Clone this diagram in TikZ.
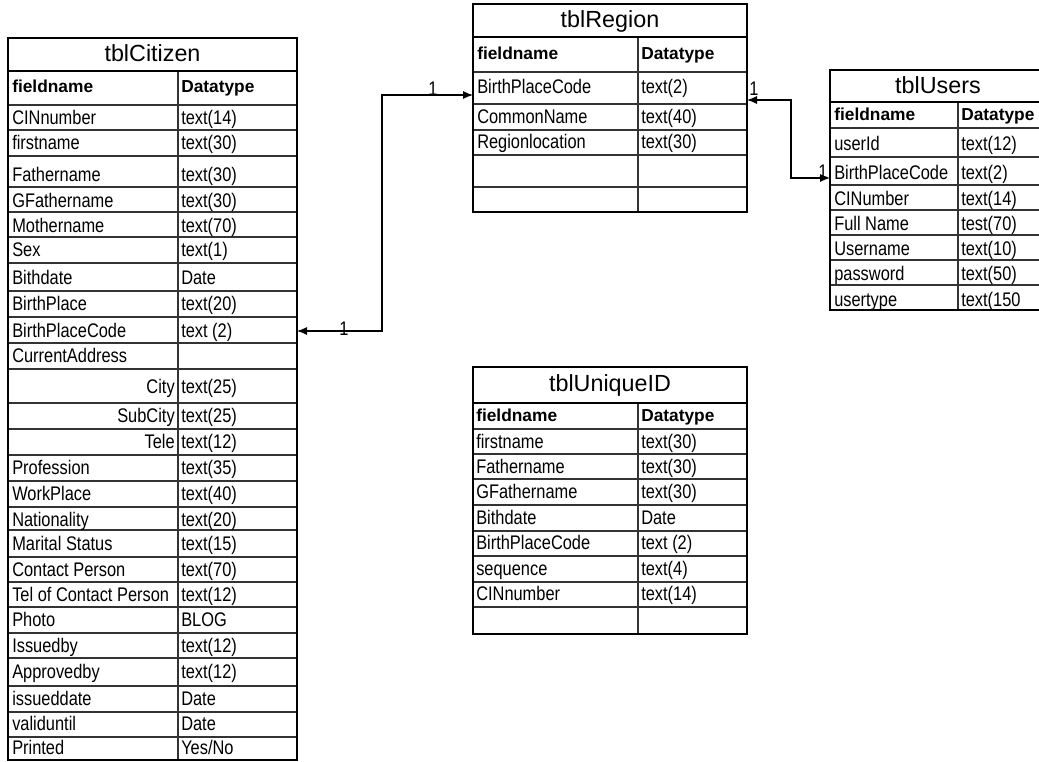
\documentclass[tikz,border=0pt]{standalone}
\usepackage{fontspec}
\usepackage{graphicx}
\setmainfont{Liberation Sans}
\usetikzlibrary{arrows.meta}
\newcommand\vstr[1]{\scalebox{1}[1.2]{#1}}
\tikzset{
  outer/.style={line width=2pt, draw=black},
  inner/.style={line width=1.1pt, draw=black!80},
  ttl/.style={font=\fontsize{17.5}{20}\selectfont, inner sep=0pt, text height=12.5pt, text depth=3.5pt},
  hdr/.style={font=\bfseries\fontsize{13}{15}\selectfont, anchor=west, inner sep=0pt, text height=9.5pt, text depth=2.5pt},
  fld/.style={font=\fontsize{12.3}{14}\selectfont, anchor=west, inner sep=0pt, text height=11pt, text depth=2pt},
  rfld/.style={fld, anchor=east},
  rel/.style={line width=0.8pt, draw=black, {Latex[length=7.5pt,width=6pt]}-{Latex[length=7.5pt,width=6pt]}},
  card/.style={font=\fontsize{12.3}{14}\selectfont, inner sep=0pt, text height=11pt, text depth=2pt},
}
\begin{document}
\begin{tikzpicture}[x=0.75pt,y=-0.75pt]
\useasboundingbox (0,0) rectangle (1039,761);
\clip (0,0) rectangle (1039,761);

% ---------------- tblCitizen ----------------
\foreach \y in {105,130,156,187,212,237,263,291,317,343,369,403,429,455,481,507,530,557,582,607,633,658,686,712,737}
  \draw[inner] (8,\y) -- (297,\y);
\draw[inner] (178,71) -- (178,760);
\draw[outer] (8,71) -- (297,71);
\draw[outer] (8,38) rectangle (297,760);
\node[ttl] (cit-title) at (152.5,55) {tblCitizen};
\node[hdr] (cit-h1) at (12,88) {fieldname};
\node[hdr] (cit-h2) at (181,88) {Datatype};
\foreach \i/\y/\f/\t in {1/118/CINnumber/text(14), 2/143/firstname/text(30), 3/175/Fathername/text(30),
  4/201/GFathername/text(30), 5/226/Mothername/text(70), 6/250/Sex/text(1), 7/278/Bithdate/Date,
  8/304/BirthPlace/text(20), 9/331/BirthPlaceCode/text (2), 14/468/Profession/text(35),
  15/494/WorkPlace/text(40), 16/520/Nationality/text(20), 17/544/Marital Status/text(15),
  18/570/Contact Person/text(70), 19/595/Tel of Contact Person/text(12), 20/620/Photo/BLOG,
  21/646/Issuedby/text(12), 22/672/Approvedby/text(12), 23/699/issueddate/Date, 24/724/validuntil/Date} {
  \node[fld] (cit-f\i) at (12,\y) {\vstr{\f}};
  \node[fld] (cit-t\i) at (181,\y) {\vstr{\t}};
}
\node[fld] (cit-f10) at (12,356) {\vstr{CurrentAddress}};
\foreach \i/\y/\f/\t in {11/387/City/text(25), 12/416/SubCity/text(25), 13/442/Tele/text(12)} {
  \node[rfld] (cit-f\i) at (175,\y) {\vstr{\f}};
  \node[fld] (cit-t\i) at (181,\y) {\vstr{\t}};
}
\node[fld] (cit-f25) at (12,748) {\vstr{Printed}};
\node[fld] (cit-t25) at (181,748) {\vstr{Yes/No}};

% ---------------- tblRegion ----------------
\foreach \y in {72,104,130,155,187}
  \draw[inner] (473,\y) -- (747,\y);
\draw[inner] (638,37) -- (638,212);
\draw[outer] (473,37) -- (747,37);
\draw[outer] (473,4) rectangle (747,212);
\node[ttl] (reg-title) at (610,21) {tblRegion};
\node[hdr] (reg-h1) at (477,55) {fieldname};
\node[hdr] (reg-h2) at (641,55) {Datatype};
\foreach \i/\y/\f/\t in {1/87/BirthPlaceCode/text(2), 2/117/CommonName/text(40), 3/142/Regionlocation/text(30)} {
  \node[fld] (reg-f\i) at (477,\y) {\vstr{\f}};
  \node[fld] (reg-t\i) at (641,\y) {\vstr{\t}};
}

% ---------------- tblUsers ----------------
\foreach \y in {128,157,185,210,235,260,285}
  \draw[inner] (830,\y) -- (1046,\y);
\draw[inner] (958,102) -- (958,310);
\draw[outer] (830,102) -- (1046,102);
\draw[outer] (830,70) rectangle (1046,310);
\node[ttl] (usr-title) at (938,87) {tblUsers};
\node[hdr] (usr-h1) at (834,116) {fieldname};
\node[hdr] (usr-h2) at (961,116) {Datatype};
\foreach \i/\y/\f/\t in {1/144/userId/text(12), 2/173/BirthPlaceCode/text(2), 3/199/CINumber/text(14),
  4/224/Full Name/test(70), 5/249/Username/text(10), 6/274/password/text(50), 7/300/usertype/text(150} {
  \node[fld] (usr-f\i) at (834,\y) {\vstr{\f}};
  \node[fld] (usr-t\i) at (961,\y) {\vstr{\t}};
}

% ---------------- tblUniqueID ----------------
\foreach \y in {429,454,479,505,531,556,582,607}
  \draw[inner] (473,\y) -- (747,\y);
\draw[inner] (638,403) -- (638,634);
\draw[outer] (473,403) -- (747,403);
\draw[outer] (473,367) rectangle (747,634);
\node[ttl] (uid-title) at (610,385) {tblUniqueID};
\node[hdr] (uid-h1) at (476,417) {fieldname};
\node[hdr] (uid-h2) at (641,417) {Datatype};
\foreach \i/\y/\f/\t in {1/442/firstname/text(30), 2/467/Fathername/text(30), 3/492/GFathername/text(30),
  4/518/Bithdate/Date, 5/543/BirthPlaceCode/text (2), 6/569/sequence/text(4), 7/594/CINnumber/text(14)} {
  \node[fld] (uid-f\i) at (476,\y) {\vstr{\f}};
  \node[fld] (uid-t\i) at (641,\y) {\vstr{\t}};
}

% ---------------- relationships ----------------
\coordinate (cit-bpc) at (297,331);
\coordinate (reg-bpc-w) at (473,95);
\coordinate (reg-bpc-e) at (747,100);
\coordinate (usr-bpc) at (830,178);
\draw[rel] (cit-bpc) -- ++(85,0) |- (reg-bpc-w);
\draw[rel] (reg-bpc-e) -- ++(44,0) |- (usr-bpc);
\node[card] (c1) at (344,329) {\vstr{1}};
\node[card] (c2) at (433,89) {\vstr{1}};
\node[card] (c3) at (754,89) {\vstr{1}};
\node[card] (c4) at (823,172) {\vstr{1}};
\end{tikzpicture}
\end{document}
